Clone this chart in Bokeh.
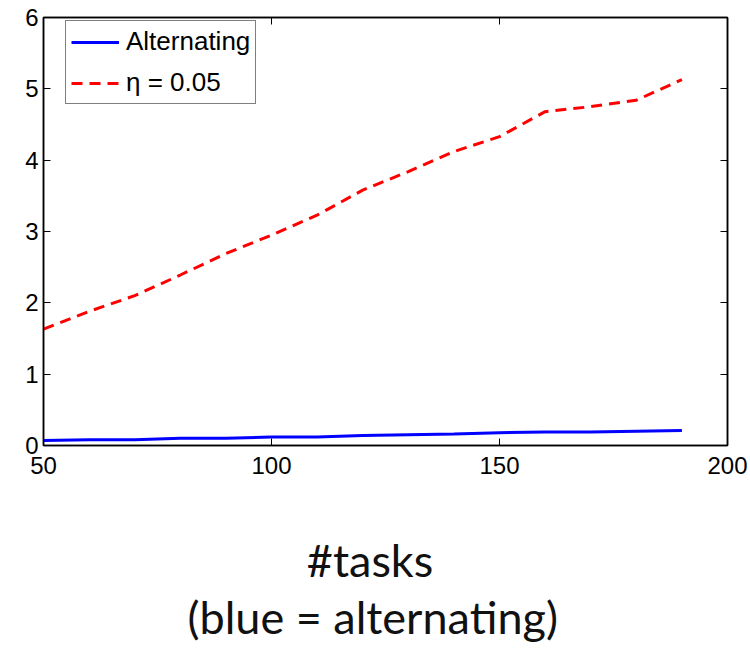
from bokeh.plotting import figure
from bokeh.layouts import column
from bokeh.models import Range1d, LinearAxis, Legend, LegendItem, Label, FixedTicker
from bokeh.embed import file_html
from bokeh.resources import INLINE

tasks = [50, 60, 70, 80, 90, 100, 110, 120, 130, 140, 150, 160, 170, 180, 190]
alternating = [0.07, 0.08, 0.08, 0.10, 0.10, 0.12, 0.12, 0.14, 0.15, 0.16, 0.18, 0.19, 0.19, 0.20, 0.21]
eta_005 = [1.63, 1.88, 2.10, 2.39, 2.69, 2.95, 3.23, 3.58, 3.84, 4.12, 4.33, 4.68, 4.75, 4.84, 5.13]
x_ticks = [50, 100, 150, 200]
y_ticks = [0, 1, 2, 3, 4, 5, 6]
xlabel_lines = ["#tasks", "(blue = alternating)"]

p = figure(width=750, height=490, output_backend="svg", toolbar_location=None,
           x_range=Range1d(50, 200), y_range=Range1d(0, 6),
           min_border_left=43, min_border_top=17, min_border_right=23, min_border_bottom=45)
p.grid.visible = False
p.outline_line_color = "black"
p.outline_line_width = 1.5

tick_font = "Liberation Sans"
for ax in p.xaxis + p.yaxis:
    ax.major_tick_in = 7
    ax.major_tick_out = 0
    ax.minor_tick_in = 0
    ax.minor_tick_out = 0
    ax.axis_line_width = 1.5
    ax.major_tick_line_width = 1
    ax.major_label_text_font = tick_font
    ax.major_label_text_font_size = "24px"
    ax.major_label_text_color = "black"
p.xaxis.ticker = FixedTicker(ticks=x_ticks)
p.yaxis.ticker = FixedTicker(ticks=y_ticks)
p.xaxis.major_label_standoff = 11
p.yaxis.major_label_standoff = 5

r_ax = LinearAxis(ticker=FixedTicker(ticks=y_ticks), major_tick_in=7, major_tick_out=0,
                  minor_tick_in=0, minor_tick_out=0, major_label_text_font_size="1px",
                  major_label_text_color=None, major_label_standoff=0, axis_line_width=1.5)
t_ax = LinearAxis(ticker=FixedTicker(ticks=x_ticks), major_tick_in=7, major_tick_out=0,
                  minor_tick_in=0, minor_tick_out=0, major_label_text_font_size="1px",
                  major_label_text_color=None, major_label_standoff=0, axis_line_width=1.5)
p.add_layout(r_ax, "right")
p.add_layout(t_ax, "above")

r1 = p.line(tasks, alternating, line_color="#0000ff", line_width=3)
r2 = p.line(tasks, eta_005, line_color="#ff0000", line_width=3, line_dash="11 7")

legend = Legend(items=[LegendItem(label="Alternating", renderers=[r1]),
                       LegendItem(label="\u03b7 = 0.05", renderers=[r2])],
                location=(22, 341))
legend.label_text_font = tick_font
legend.label_text_font_size = "26px"
legend.label_text_color = "black"
legend.glyph_width = 48
legend.glyph_height = 30
legend.label_height = 30
legend.label_standoff = 7
legend.spacing = 10
legend.padding = 5
legend.margin = 0
legend.border_line_color = "black"
legend.border_line_width = 1.5
p.add_layout(legend)

# lower panel holding the two-line x-axis caption (coordinates ~ page pixels)
p2 = figure(width=750, height=159, output_backend="svg", toolbar_location=None,
            x_range=Range1d(0, 750), y_range=Range1d(649, 490),
            x_axis_type=None, y_axis_type=None,
            min_border_left=0, min_border_right=0, min_border_top=0, min_border_bottom=0)
p2.grid.visible = False
p2.outline_line_color = None
for txt, xc, yb in zip(xlabel_lines, [358, 361], [559, 616]):
    p2.add_layout(Label(x=xc, y=yb, text=txt, text_align="center", text_baseline="alphabetic",
                        text_font="Lato", text_font_size="45px", text_color="#111111"))

layout = column(p, p2, spacing=0)
open("out.html", "w").write(file_html(layout, INLINE))
